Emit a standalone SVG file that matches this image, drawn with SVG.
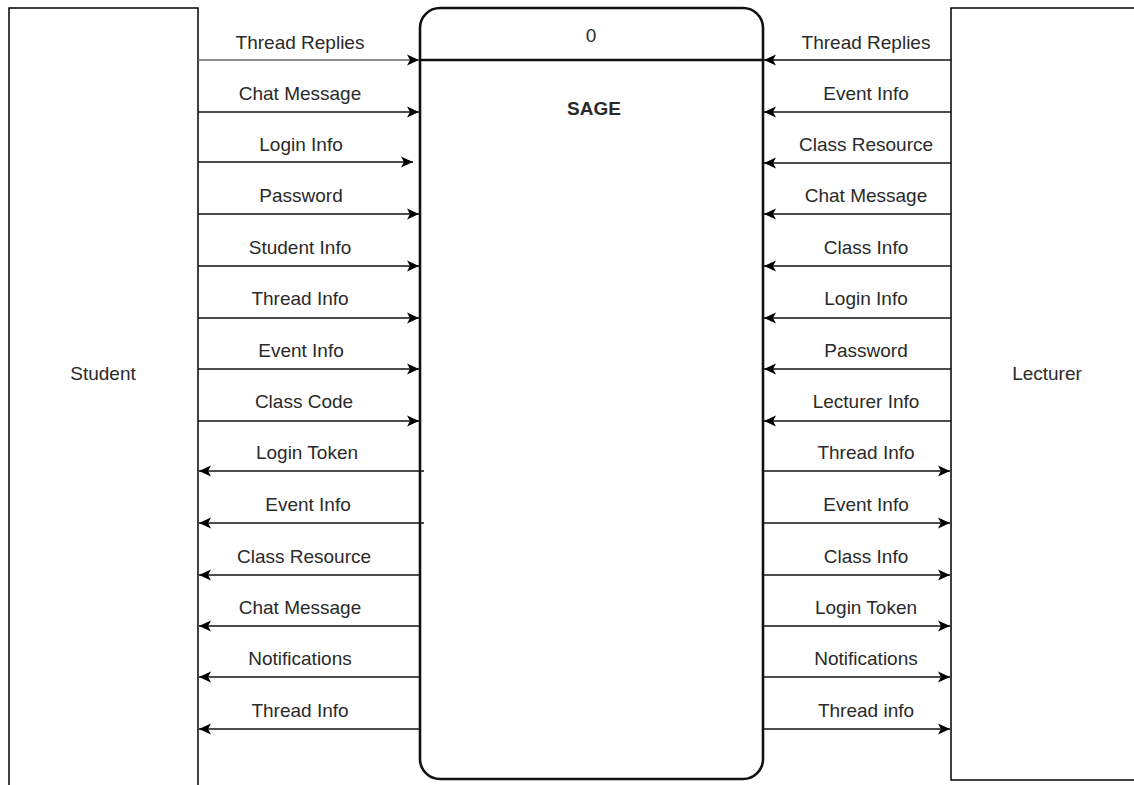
<svg xmlns="http://www.w3.org/2000/svg" width="1134" height="785" viewBox="0 0 1134 785">
<style>
text{font-family:"Liberation Sans",Arial,sans-serif;font-size:19px;fill:#2a2a2a;text-anchor:middle}
.box{fill:#fff;stroke:#000;stroke-width:1.5}
.proc{fill:#fff;stroke:#111;stroke-width:2.6}
.c{stroke:#111;stroke-width:1.6;fill:none;marker-end:url(#ah)}
</style>
<defs>
<marker id="ah" markerUnits="userSpaceOnUse" markerWidth="13" markerHeight="12" refX="12" refY="6" orient="auto" viewBox="0 0 13 12">
<path d="M0,0.5 L12,6 L0,11.5 L3,6 Z" fill="#000"/>
</marker>
</defs>
<rect width="1134" height="785" fill="#fff"/>
<g id="student">
<rect class="box" x="9" y="8" width="189" height="800"/>
<text x="103" y="380">Student</text>
</g>
<g id="lecturer">
<rect class="box" x="951" y="8" width="200" height="772"/>
<text x="1047" y="380">Lecturer</text>
</g>
<g id="sage">
<rect class="proc" x="420" y="8" width="343" height="771" rx="20"/>
<line x1="420" y1="60" x2="763" y2="60" stroke="#111" stroke-width="2.6"/>
<text x="591" y="42">0</text>
<text x="594" y="115" style="font-weight:bold">SAGE</text>
</g>
<g id="connectors">
<path class="c" d="M198,60H419" style="stroke:#666"/>
<path class="c" d="M198,112H419"/>
<path class="c" d="M198,162H413"/>
<path class="c" d="M198,214H419"/>
<path class="c" d="M198,266H419"/>
<path class="c" d="M198,318H419"/>
<path class="c" d="M198,369H419"/>
<path class="c" d="M198,421H419"/>
<path class="c" d="M424,471H199"/>
<path class="c" d="M424,523H199"/>
<path class="c" d="M419,575H199"/>
<path class="c" d="M419,626H199"/>
<path class="c" d="M419,677H199"/>
<path class="c" d="M419,729H199"/>
<path class="c" d="M951,60H764"/>
<path class="c" d="M951,112H764"/>
<path class="c" d="M951,163H764"/>
<path class="c" d="M951,214H764"/>
<path class="c" d="M951,266H764"/>
<path class="c" d="M951,318H764"/>
<path class="c" d="M951,369H764"/>
<path class="c" d="M951,421H764"/>
<path class="c" d="M764,471H950"/>
<path class="c" d="M764,523H950"/>
<path class="c" d="M764,575H950"/>
<path class="c" d="M764,626H950"/>
<path class="c" d="M764,677H950"/>
<path class="c" d="M764,729H950"/>
</g>
<g id="labels">
<text x="300" y="49">Thread Replies</text>
<text x="300" y="100">Chat Message</text>
<text x="301" y="151">Login Info</text>
<text x="301" y="202">Password</text>
<text x="300" y="254">Student Info</text>
<text x="300" y="305">Thread Info</text>
<text x="301" y="357">Event Info</text>
<text x="304" y="408">Class Code</text>
<text x="307" y="459">Login Token</text>
<text x="308" y="511">Event Info</text>
<text x="304" y="563">Class Resource</text>
<text x="300" y="614">Chat Message</text>
<text x="300" y="665">Notifications</text>
<text x="300" y="717">Thread Info</text>
<text x="866" y="49">Thread Replies</text>
<text x="866" y="100">Event Info</text>
<text x="866" y="151">Class Resource</text>
<text x="866" y="202">Chat Message</text>
<text x="866" y="254">Class Info</text>
<text x="866" y="305">Login Info</text>
<text x="866" y="357">Password</text>
<text x="866" y="408">Lecturer Info</text>
<text x="866" y="459">Thread Info</text>
<text x="866" y="511">Event Info</text>
<text x="866" y="563">Class Info</text>
<text x="866" y="614">Login Token</text>
<text x="866" y="665">Notifications</text>
<text x="866" y="717">Thread info</text>
</g>
</svg>
